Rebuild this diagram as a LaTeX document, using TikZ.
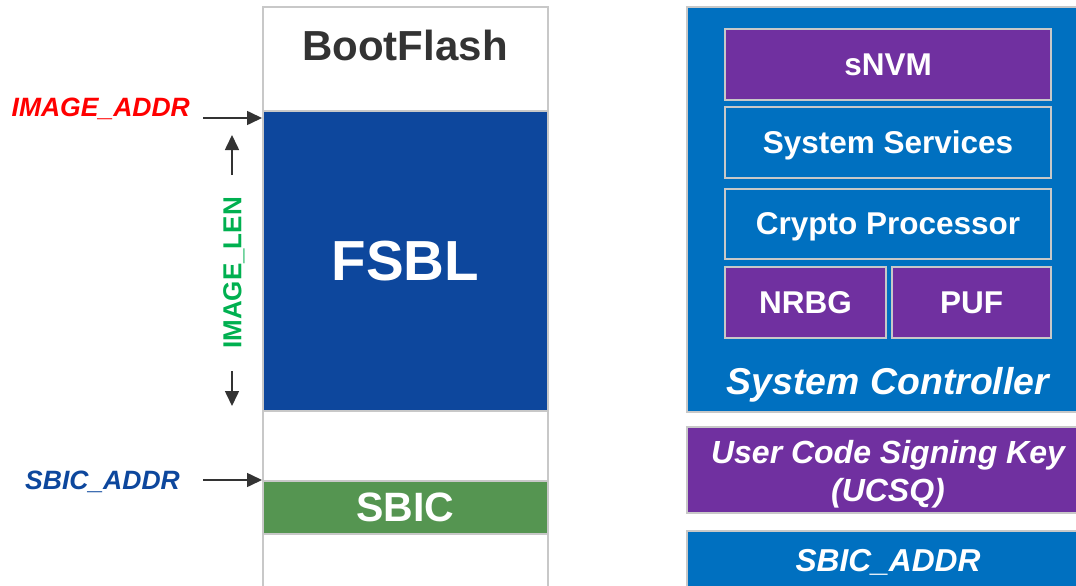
\documentclass[tikz,border=0pt]{standalone}
\usepackage{fontspec}
\setmainfont{Liberation Sans}
\usetikzlibrary{arrows.meta}
\definecolor{frame}{HTML}{C8C8C8}
\definecolor{fsblblue}{HTML}{0D479D}
\definecolor{scblue}{HTML}{0070C0}
\definecolor{keypurple}{HTML}{7030A0}
\definecolor{sbicgreen}{HTML}{559551}
\definecolor{arrowgray}{HTML}{333333}
\definecolor{lengreen}{HTML}{00B050}
\tikzset{
  block/.style={draw=frame, line width=2pt, anchor=north west, inner sep=0pt, outer sep=0pt,
                text=white, align=center, text depth=0pt},
  ptr/.style={draw=arrowgray, line width=1.6pt, -{Triangle[length=15pt,width=14pt]}},
  addrlabel/.style={font=\fontsize{26.5}{30}\selectfont\bfseries\itshape, inner sep=0pt},
  boxfont/.style={font=\fontsize{31.5}{34}\selectfont\bfseries},
}
\begin{document}
\begin{tikzpicture}[x=1pt,y=-1pt]
\useasboundingbox (0,0) rectangle (1076,586);

% BootFlash memory column
\node[block, fill=white, minimum width=285pt, minimum height=104pt] (bootflash) at (263,7) {};
\node[text=arrowgray, inner sep=0pt, text depth=0pt,
      font=\fontsize{42}{46}\selectfont\bfseries] (bootlabel) at (405,45) {BootFlash};
\node[block, fill=fsblblue, minimum width=285pt, minimum height=300pt,
      font=\fontsize{56.5}{60}\selectfont\bfseries] (fsbl) at (263,111) {FSBL};
\node[block, fill=white, minimum width=285pt, minimum height=70pt] (gap) at (263,411) {};
\node[block, fill=sbicgreen, minimum width=285pt, minimum height=53pt,
      font=\fontsize{41}{44}\selectfont\bfseries] (sbic) at (263,481) {SBIC};
\draw[frame, line width=2pt] (263,534) -- (263,600) (548,534) -- (548,600);

% address pointers
\node[addrlabel, text=red, anchor=east] (imgaddr) at (190,109) {IMAGE\_ADDR};
\node[addrlabel, text=fsblblue, anchor=east] (sbicaddr) at (180,482) {SBIC\_ADDR};
\coordinate (imgtip) at (262,118);
\coordinate (imgtail) at (203,118);
\coordinate (sbictip) at (262,480);
\coordinate (sbictail) at (203,480);
\draw[ptr] (imgtail) -- (imgtip);
\draw[ptr] (sbictail) -- (sbictip);

% image length
\node[rotate=90, text=lengreen, inner sep=0pt,
      font=\fontsize{26}{30}\selectfont\bfseries] (imglen) at (234,273) {IMAGE\_LEN};
\coordinate (lentop) at (232,135);
\coordinate (lenbot) at (232,406);
\coordinate (lenupfrom) at (232,175);
\coordinate (lendownfrom) at (232,371);
\draw[ptr] (lenupfrom) -- (lentop);
\draw[ptr] (lendownfrom) -- (lenbot);

% System Controller
\node[block, fill=scblue, minimum width=400pt, minimum height=405pt] (sysctrl) at (687,7) {};
\node[block, fill=keypurple, minimum width=326pt, minimum height=71pt, boxfont] (snvm) at (725,29) {sNVM};
\node[block, fill=scblue, minimum width=326pt, minimum height=71pt, boxfont] (services) at (725,107) {System Services};
\node[block, fill=scblue, minimum width=326pt, minimum height=70pt, boxfont] (crypto) at (725,189) {Crypto Processor};
\node[block, fill=keypurple, minimum width=161pt, minimum height=71pt, boxfont] (nrbg) at (725,267) {NRBG};
\node[block, fill=keypurple, minimum width=159pt, minimum height=71pt, boxfont] (puf) at (892,267) {PUF};
\node[text=white, inner sep=0pt, text depth=0pt, font=\fontsize{37.4}{40}\selectfont\bfseries\itshape]
      (sclabel) at (888,381) {System Controller};

% signing key and boot address
\node[block, fill=keypurple, minimum width=400pt, minimum height=86pt] (ucsq) at (687,427) {};
\node[text=white, inner sep=0pt, align=center,
      font=\fontsize{32}{38}\selectfont\bfseries\itshape] (ucsqlabel) at (888,474)
      {User Code Signing Key\\(UCSQ)};
\node[block, fill=scblue, minimum width=400pt, minimum height=70pt] (sbicreg) at (687,531) {};
\node[text=white, inner sep=0pt, text depth=0pt, font=\fontsize{31.7}{34}\selectfont\bfseries\itshape]
      (sbicreglabel) at (888,560) {SBIC\_ADDR};
\end{tikzpicture}
\end{document}
